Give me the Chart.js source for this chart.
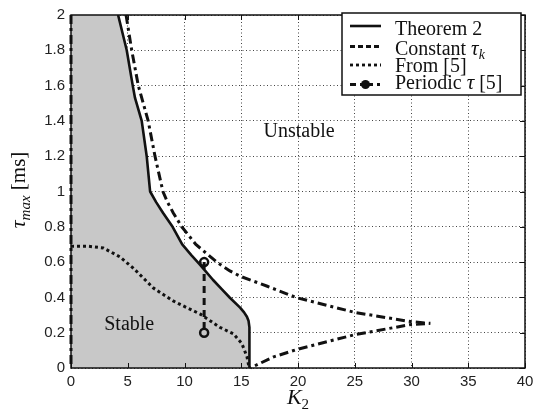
<!DOCTYPE html>
<html>
<head>
<meta charset="utf-8">
<script src="https://cdn.jsdelivr.net/npm/chart.js@4.4.1/dist/chart.umd.min.js"></script>
<style>
  html, body { margin: 0; padding: 0; background: #fff; }
  #wrap { width: 546px; height: 420px; }
</style>
</head>
<body>
<div id="wrap"><canvas id="stability_chart" width="546" height="420"></canvas></div>
<script>
// Tick positions and labels
var xTickValues = [0, 5, 10, 15, 20, 25, 30, 35, 40];
var yTickValues = [0, 0.2, 0.4, 0.6, 0.8, 1, 1.2, 1.4, 1.6, 1.8, 2];
var yTickLabels = ['0', '0.2', '0.4', '0.6', '0.8', '1', '1.2', '1.4', '1.6', '1.8', '2'];

// Theorem 2 boundary (K2 vs tau_max in ms)
var theoremK   = [4.15, 4.91, 5.44, 5.64, 6.23, 6.67, 6.97, 7.5, 8.1, 8.95, 9.8, 10.6, 11.3, 11.7, 12.5, 13.3, 14.0, 14.9, 15.25, 15.5, 15.64, 15.72, 15.72];
var theoremTau = [2.0, 1.8, 1.6, 1.53, 1.4, 1.2, 1.0, 0.94, 0.88, 0.8, 0.7, 0.64, 0.59, 0.56, 0.5, 0.445, 0.398, 0.342, 0.315, 0.29, 0.268, 0.23, 0.0];

// Constant tau_k: upper branch, lower branch, and the segment on K2 = 0
var constUpperK   = [4.85, 5.35, 5.93, 6.8, 7.4, 7.75, 8.1, 8.5, 9.0, 9.76, 11.0, 12.85, 14.0, 14.9, 17.3, 19.9, 25, 30, 31.66];
var constUpperTau = [2.0, 1.8, 1.6, 1.4, 1.2, 1.1, 1.0, 0.94, 0.88, 0.8, 0.7, 0.6, 0.55, 0.52, 0.463, 0.398, 0.315, 0.262, 0.253];
var constLowerK   = [30, 25, 19.9, 17.8, 15.8];
var constLowerTau = [0.247, 0.189, 0.105, 0.062, 0.0];
var constAxisK    = [0, 0];
var constAxisTau  = [2, 0];

// From [5]
var fromK   = [0, 1.5, 2.85, 4.3, 5.5, 7.26, 9.0, 10.2, 11.4, 13.1, 14.3, 15.05, 15.5, 15.7];
var fromTau = [0.69, 0.69, 0.68, 0.63, 0.565, 0.453, 0.38, 0.342, 0.305, 0.231, 0.194, 0.139, 0.065, 0.0];

// Periodic tau [5]
var periodicK   = [11.73, 11.73];
var periodicTau = [0.6, 0.2];

function pts(xs, ys) {
    return xs.map(function (v, i) { return { x: v, y: ys[i] }; });
}

var constantPts = pts(constUpperK, constUpperTau)
    .concat(pts(constLowerK, constLowerTau))
    .concat([{ x: 0, y: null }])
    .concat(pts(constAxisK, constAxisTau));

// stable region = area under Theorem 2 curve, closed at top-left corner
var stablePts = [{ x: 0, y: 2 }].concat(pts(theoremK, theoremTau));

var serif = '"Liberation Serif", "Times New Roman", serif';
var sans = '"Liberation Sans", Arial, sans-serif';

var constDash = [9, 4, 3, 4];
var fromDash = [3, 3];
var periodicDash = [7, 5];

function drawRich(ctx, parts, x, y, align) {
    // parts: [text, size, italic, dy]
    var total = 0;
    parts.forEach(function (p) {
        ctx.font = (p[2] ? 'italic ' : '') + p[1] + 'px ' + serif;
        p.w = ctx.measureText(p[0]).width;
        total += p.w;
    });
    var cx = align === 'center' ? x - total / 2 : x;
    parts.forEach(function (p) {
        ctx.font = (p[2] ? 'italic ' : '') + p[1] + 'px ' + serif;
        ctx.fillText(p[0], cx, y + (p[3] || 0));
        cx += p.w;
    });
}

var decor = {
    id: 'decor',
    afterDatasetsDraw: function (chart) {
        var ctx = chart.ctx, a = chart.chartArea;
        var xs = chart.scales.x, ys = chart.scales.y;
        ctx.save();
        ctx.fillStyle = '#111';
        ctx.textBaseline = 'alphabetic';
        ctx.font = '20px ' + serif;
        ctx.textAlign = 'center';
        ctx.fillText('Unstable', xs.getPixelForValue(20.1), ys.getPixelForValue(1.307));
        ctx.fillText('Stable', xs.getPixelForValue(5.13), ys.getPixelForValue(0.218));

        // inward ticks
        ctx.strokeStyle = '#111';
        ctx.lineWidth = 1;
        ctx.beginPath();
        xTickValues.forEach(function (v) {
            var px = Math.round(xs.getPixelForValue(v)) + 0.5;
            ctx.moveTo(px, a.bottom); ctx.lineTo(px, a.bottom - 5);
            ctx.moveTo(px, a.top); ctx.lineTo(px, a.top + 5);
        });
        yTickValues.forEach(function (v) {
            var py = Math.round(ys.getPixelForValue(v)) + 0.5;
            ctx.moveTo(a.right, py); ctx.lineTo(a.right - 5, py);
        });
        ctx.stroke();

        // box
        ctx.lineWidth = 1.5;
        ctx.strokeRect(a.left, a.top, a.right - a.left, a.bottom - a.top);
        ctx.restore();
    },
    afterDraw: function (chart) {
        var ctx = chart.ctx, a = chart.chartArea;
        ctx.save();
        ctx.fillStyle = '#111';
        ctx.textBaseline = 'alphabetic';

        // axis titles
        drawRich(ctx, [['K', 22, true, 0], ['2', 15, false, 5]], (a.left + a.right) / 2, 404, 'center');
        ctx.save();
        ctx.translate(25, 190);
        ctx.rotate(-Math.PI / 2);
        drawRich(ctx, [['\u03C4', 22, true, 0], ['max', 15, true, 5], [' [ms]', 21, false, 0]], 0, 0, 'center');
        ctx.restore();

        // legend
        var lx = 342, ly = 13, lw = 179, lh = 82;
        ctx.fillStyle = '#fff';
        ctx.fillRect(lx, ly, lw, lh);
        ctx.strokeStyle = '#111';
        ctx.lineWidth = 1.5;
        ctx.strokeRect(lx, ly, lw, lh);

        var rows = [
            { y: 26, base: 35, dash: [], width: 2.6, parts: [['Theorem 2', 20, false, 0]] },
            { y: 46.5, base: 54.5, dash: [5, 3], width: 2.8, parts: [['Constant ', 20, false, 0], ['\u03C4', 21, true, 0], ['k', 14, true, 4]] },
            { y: 65, base: 72, dash: fromDash, width: 2.8, parts: [['From [5]', 20, false, 0]] },
            { y: 84.5, base: 89, dash: [6, 4, 3, 4], width: 2.8, dot: true, parts: [['Periodic ', 20, false, 0], ['\u03C4', 21, true, 0], [' [5]', 20, false, 0]] }
        ];
        rows.forEach(function (r) {
            ctx.strokeStyle = '#111';
            ctx.lineWidth = r.width;
            ctx.setLineDash(r.dash);
            ctx.beginPath();
            ctx.moveTo(350, r.y);
            ctx.lineTo(381, r.y);
            ctx.stroke();
            ctx.setLineDash([]);
            if (r.dot) {
                ctx.fillStyle = '#111';
                ctx.beginPath();
                ctx.arc(365.5, r.y, 4.5, 0, Math.PI * 2);
                ctx.fill();
            }
            ctx.fillStyle = '#111';
            drawRich(ctx, r.parts, 395, r.base, 'left');
        });
        ctx.restore();
    }
};

var ctx = document.getElementById('stability_chart');

var stabilityChart = new Chart(ctx, {
    type: 'scatter',
    data: {
        datasets: [{
            label: 'Periodic tau [5]',
            data: pts(periodicK, periodicTau),
            showLine: true,
            borderColor: '#111',
            borderWidth: 3,
            borderDash: periodicDash,
            pointRadius: 4,
            pointBorderWidth: 2.5,
            pointBorderColor: '#111',
            pointBackgroundColor: 'rgba(0,0,0,0)',
            order: 0
        }, {
            label: 'Theorem 2',
            data: pts(theoremK, theoremTau),
            showLine: true,
            borderColor: '#111',
            borderWidth: 2.6,
            borderJoinStyle: 'round',
            pointRadius: 0,
            order: 1
        }, {
            label: 'Constant tau_k',
            data: constantPts,
            showLine: true,
            spanGaps: false,
            borderColor: '#111',
            borderWidth: 3,
            borderDash: constDash,
            pointRadius: 0,
            clip: 4,
            order: 2
        }, {
            label: 'From [5]',
            data: pts(fromK, fromTau),
            showLine: true,
            borderColor: '#111',
            borderWidth: 3,
            borderDash: fromDash,
            pointRadius: 0,
            order: 3
        }, {
            label: 'stable region',
            data: stablePts,
            showLine: true,
            borderWidth: 0,
            borderColor: 'rgba(0,0,0,0)',
            backgroundColor: '#c8c8c8',
            fill: 'origin',
            pointRadius: 0,
            order: 9
        }]
    },
    options: {
        responsive: false,
        animation: false,
        devicePixelRatio: 1,
        layout: { padding: { left: 0, top: 8, right: 21, bottom: 0 } },
        plugins: {
            legend: { display: false },
            tooltip: { enabled: false }
        },
        scales: {
            x: {
                type: 'linear',
                min: 0,
                max: 40,
                afterBuildTicks: function (scale) {
                    scale.ticks = xTickValues.map(function (v) { return { value: v }; });
                },
                afterFit: function (scale) { scale.height = 52; },
                ticks: {
                    font: { family: sans, size: 15 },
                    color: '#222',
                    padding: 5,
                    maxRotation: 0,
                    callback: function (v) { return String(v); }
                },
                grid: { color: '#444', lineWidth: 1, drawTicks: false },
                border: { display: false, dash: [1, 2.5] }
            },
            y: {
                type: 'linear',
                min: 0,
                max: 2,
                afterBuildTicks: function (scale) {
                    scale.ticks = yTickValues.map(function (v) { return { value: v }; });
                },
                afterFit: function (scale) { scale.width = 71; },
                ticks: {
                    font: { family: sans, size: 15 },
                    color: '#222',
                    padding: 6,
                    callback: function (v, i) { return yTickLabels[i]; }
                },
                grid: { color: '#444', lineWidth: 1, drawTicks: false },
                border: { display: false, dash: [1, 2.5] }
            }
        }
    },
    plugins: [decor]
});
</script>
</body>
</html>
